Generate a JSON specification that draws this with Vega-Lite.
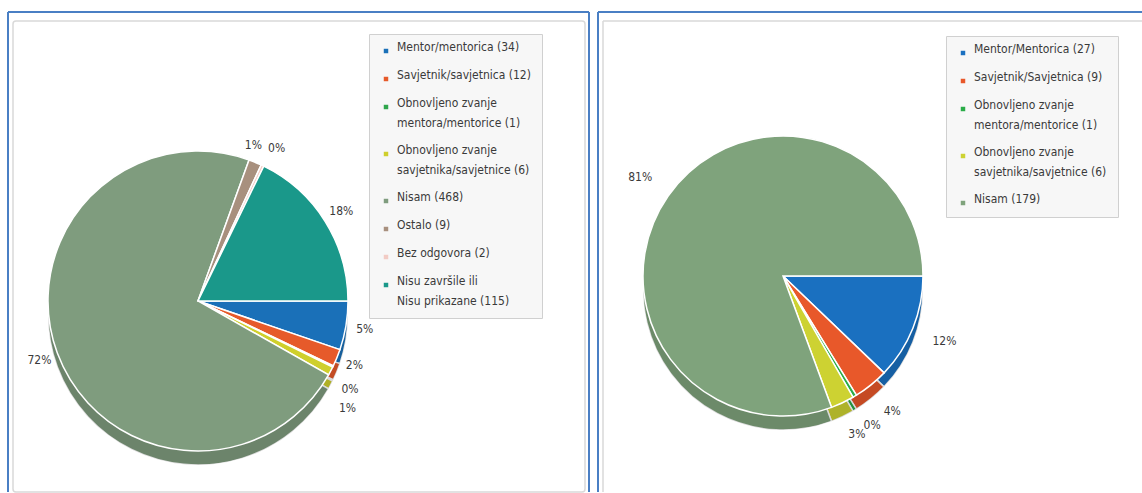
{
  "$schema": "https://vega.github.io/schema/vega-lite/v6.json",
  "padding": {"left": 7, "top": 11, "right": 0, "bottom": 0},
  "spacing": 7,
  "background": "white",
  "config": {
    "view": {"stroke": null},
    "font": "DejaVu Sans Condensed",
    "style": {"guide-label": {"lineHeight": 20}},
    "legend": {
      "orient": "none",
      "title": null,
      "symbolType": "square",
      "symbolSize": 20,
      "symbolStrokeWidth": 0,
      "labelFont": "DejaVu Sans Condensed",
      "labelFontSize": 12,
      "labelColor": "#3a3a3a",
      "labelLimit": 220,
      "labelOffset": 5,
      "labelBaseline": "alphabetic",
      "fillColor": "#f7f7f7",
      "strokeColor": "#d0d0d0",
      "padding": 11,
      "rowPadding": 15
    }
  },
  "resolve": {"scale": {"color": "independent", "theta": "independent"}, "legend": {"color": "independent"}},
  "hconcat": [
    {
      "width": 581,
      "height": 480,
      "data": {"values": [
        {"idx": 1, "category": "Mentor/mentorica (34)", "count": 34, "pct": "5%"},
        {"idx": 2, "category": "Savjetnik/savjetnica (12)", "count": 12, "pct": "2%"},
        {"idx": 3, "category": "Obnovljeno zvanje\nmentora/mentorice (1)", "count": 1, "pct": "0%"},
        {"idx": 4, "category": "Obnovljeno zvanje\nsavjetnika/savjetnice (6)", "count": 6, "pct": "1%"},
        {"idx": 5, "category": "Nisam (468)", "count": 468, "pct": "72%"},
        {"idx": 6, "category": "Ostalo (9)", "count": 9, "pct": "1%"},
        {"idx": 7, "category": "Bez odgovora (2)", "count": 2, "pct": "0%"},
        {"idx": 8, "category": "Nisu završile ili\nNisu prikazane (115)", "count": 115, "pct": "18%"}
      ]},
      "layer": [
        {
          "data": {"values": [{}]},
          "mark": {"type": "rect", "fill": null, "stroke": "#d9d9d9", "strokeWidth": 1.5, "cornerRadius": 3, "x2Offset": -4},
          "encoding": {"x": {"value": 5}, "x2": {"value": "width"}, "y": {"value": 9}, "y2": {"value": "height"}}
        },
        {
          "data": {"values": [{}]},
          "mark": {"type": "rule", "stroke": "#4a7fc4", "strokeWidth": 2},
          "encoding": {"x": {"value": 0}, "y": {"value": 0}, "y2": {"value": "height"}}
        },
        {
          "data": {"values": [{}]},
          "mark": {"type": "rule", "stroke": "#4a7fc4", "strokeWidth": 2},
          "encoding": {"x": {"value": "width"}, "y": {"value": 0}, "y2": {"value": "height"}}
        },
        {
          "data": {"values": [{}]},
          "mark": {"type": "rule", "stroke": "#4a7fc4", "strokeWidth": 2},
          "encoding": {"y": {"value": 0}, "x": {"value": 0}, "x2": {"value": "width"}}
        },
        {
          "mark": {"type": "arc", "outerRadius": 150, "x": 190, "y": 303, "stroke": "white", "strokeWidth": 1.5},
          "encoding": {
            "theta": {"field": "count", "type": "quantitative", "stack": true, "scale": {"range": [1.5708, 7.854]}},
            "order": {"field": "idx", "type": "quantitative"},
            "color": {"field": "category", "type": "nominal"}
          }
        },
        {
          "mark": {"type": "arc", "outerRadius": 150, "x": 190, "y": 303, "fill": "black", "opacity": 0.15},
          "encoding": {
            "theta": {"field": "count", "type": "quantitative", "stack": true},
            "order": {"field": "idx", "type": "quantitative"},
            "detail": {"field": "category", "type": "nominal"}
          }
        },
        {
          "mark": {"type": "arc", "outerRadius": 150, "x": 190, "y": 289, "stroke": "white", "strokeWidth": 1.5},
          "encoding": {
            "theta": {"field": "count", "type": "quantitative", "stack": true},
            "order": {"field": "idx", "type": "quantitative"},
            "color": {
              "field": "category", "type": "nominal",
              "sort": {"field": "idx"},
              "scale": {
                "domain": ["Mentor/mentorica (34)", "Savjetnik/savjetnica (12)", "Obnovljeno zvanje\nmentora/mentorice (1)", "Obnovljeno zvanje\nsavjetnika/savjetnice (6)", "Nisam (468)", "Ostalo (9)", "Bez odgovora (2)", "Nisu završile ili\nNisu prikazane (115)"],
                "range": ["#1a70b8", "#e65a2a", "#2fa64c", "#cfcf2c", "#7f9c7e", "#a8907e", "#f2cbc4", "#1a988a"]
              },
              "legend": {
                "legendX": 361, "legendY": 22,
                "labelExpr": "split(datum.label, '\\n')"
              }
            }
          }
        },
        {
          "mark": {
            "type": "text", "radius": 169, "x": 190, "y": 289, "fontSize": 12, "font": "DejaVu Sans Condensed", "color": "#3a3a3a",
            "dy": {"expr": "datum.idx >= 3 && datum.idx <= 4 ? (datum.idx - 2) * 14 : 0"},
            "dx": {"expr": "datum.idx == 6 ? -9 : datum.idx == 7 ? 6 : 0"}
          },
          "encoding": {
            "theta": {"field": "count", "type": "quantitative", "stack": true},
            "order": {"field": "idx", "type": "quantitative"},
            "text": {"field": "pct", "type": "nominal"},
            "detail": {"field": "category", "type": "nominal"}
          }
        }
      ]
    },
    {
      "width": 545,
      "height": 480,
      "data": {"values": [
        {"idx": 1, "category": "Mentor/Mentorica (27)", "count": 27, "pct": "12%"},
        {"idx": 2, "category": "Savjetnik/Savjetnica (9)", "count": 9, "pct": "4%"},
        {"idx": 3, "category": "Obnovljeno zvanje\nmentora/mentorice (1)", "count": 1, "pct": "0%"},
        {"idx": 4, "category": "Obnovljeno zvanje\nsavjetnika/savjetnice (6)", "count": 6, "pct": "3%"},
        {"idx": 5, "category": "Nisam (179)", "count": 179, "pct": "81%"}
      ]},
      "layer": [
        {
          "data": {"values": [{}]},
          "mark": {"type": "rule", "stroke": "#d9d9d9", "strokeWidth": 1.5, "xOffset": 5},
          "encoding": {"x": {"value": 0}, "y": {"value": 9}, "y2": {"value": "height"}}
        },
        {
          "data": {"values": [{}]},
          "mark": {"type": "rule", "stroke": "#d9d9d9", "strokeWidth": 1.5},
          "encoding": {"y": {"value": 9}, "x": {"value": 5}, "x2": {"value": "width"}}
        },
        {
          "data": {"values": [{}]},
          "mark": {"type": "rule", "stroke": "#4a7fc4", "strokeWidth": 2},
          "encoding": {"x": {"value": 0}, "y": {"value": 0}, "y2": {"value": "height"}}
        },
        {
          "data": {"values": [{}]},
          "mark": {"type": "rule", "stroke": "#4a7fc4", "strokeWidth": 2},
          "encoding": {"y": {"value": 0}, "x": {"value": 0}, "x2": {"value": "width"}}
        },
        {
          "mark": {"type": "arc", "outerRadius": 140, "x": 185, "y": 278, "stroke": "white", "strokeWidth": 1.5},
          "encoding": {
            "theta": {"field": "count", "type": "quantitative", "stack": true, "scale": {"range": [1.5708, 7.854]}},
            "order": {"field": "idx", "type": "quantitative"},
            "color": {"field": "category", "type": "nominal"}
          }
        },
        {
          "mark": {"type": "arc", "outerRadius": 140, "x": 185, "y": 278, "fill": "black", "opacity": 0.15},
          "encoding": {
            "theta": {"field": "count", "type": "quantitative", "stack": true},
            "order": {"field": "idx", "type": "quantitative"},
            "detail": {"field": "category", "type": "nominal"}
          }
        },
        {
          "mark": {"type": "arc", "outerRadius": 140, "x": 185, "y": 264, "stroke": "white", "strokeWidth": 1.5},
          "encoding": {
            "theta": {"field": "count", "type": "quantitative", "stack": true},
            "order": {"field": "idx", "type": "quantitative"},
            "color": {
              "field": "category", "type": "nominal",
              "sort": {"field": "idx"},
              "scale": {
                "domain": ["Mentor/Mentorica (27)", "Savjetnik/Savjetnica (9)", "Obnovljeno zvanje\nmentora/mentorice (1)", "Obnovljeno zvanje\nsavjetnika/savjetnice (6)", "Nisam (179)"],
                "range": ["#1a70c0", "#e8582a", "#2aac48", "#cdd232", "#7fa37c"]
              },
              "legend": {
                "legendX": 348, "legendY": 24,
                "labelExpr": "split(datum.label, '\\n')"
              }
            }
          }
        },
        {
          "mark": {"type": "text", "radius": 174, "x": 185, "y": 264, "fontSize": 12, "font": "DejaVu Sans Condensed", "color": "#3a3a3a"},
          "encoding": {
            "theta": {"field": "count", "type": "quantitative", "stack": true},
            "order": {"field": "idx", "type": "quantitative"},
            "text": {"field": "pct", "type": "nominal"},
            "detail": {"field": "category", "type": "nominal"}
          }
        }
      ]
    }
  ]
}
